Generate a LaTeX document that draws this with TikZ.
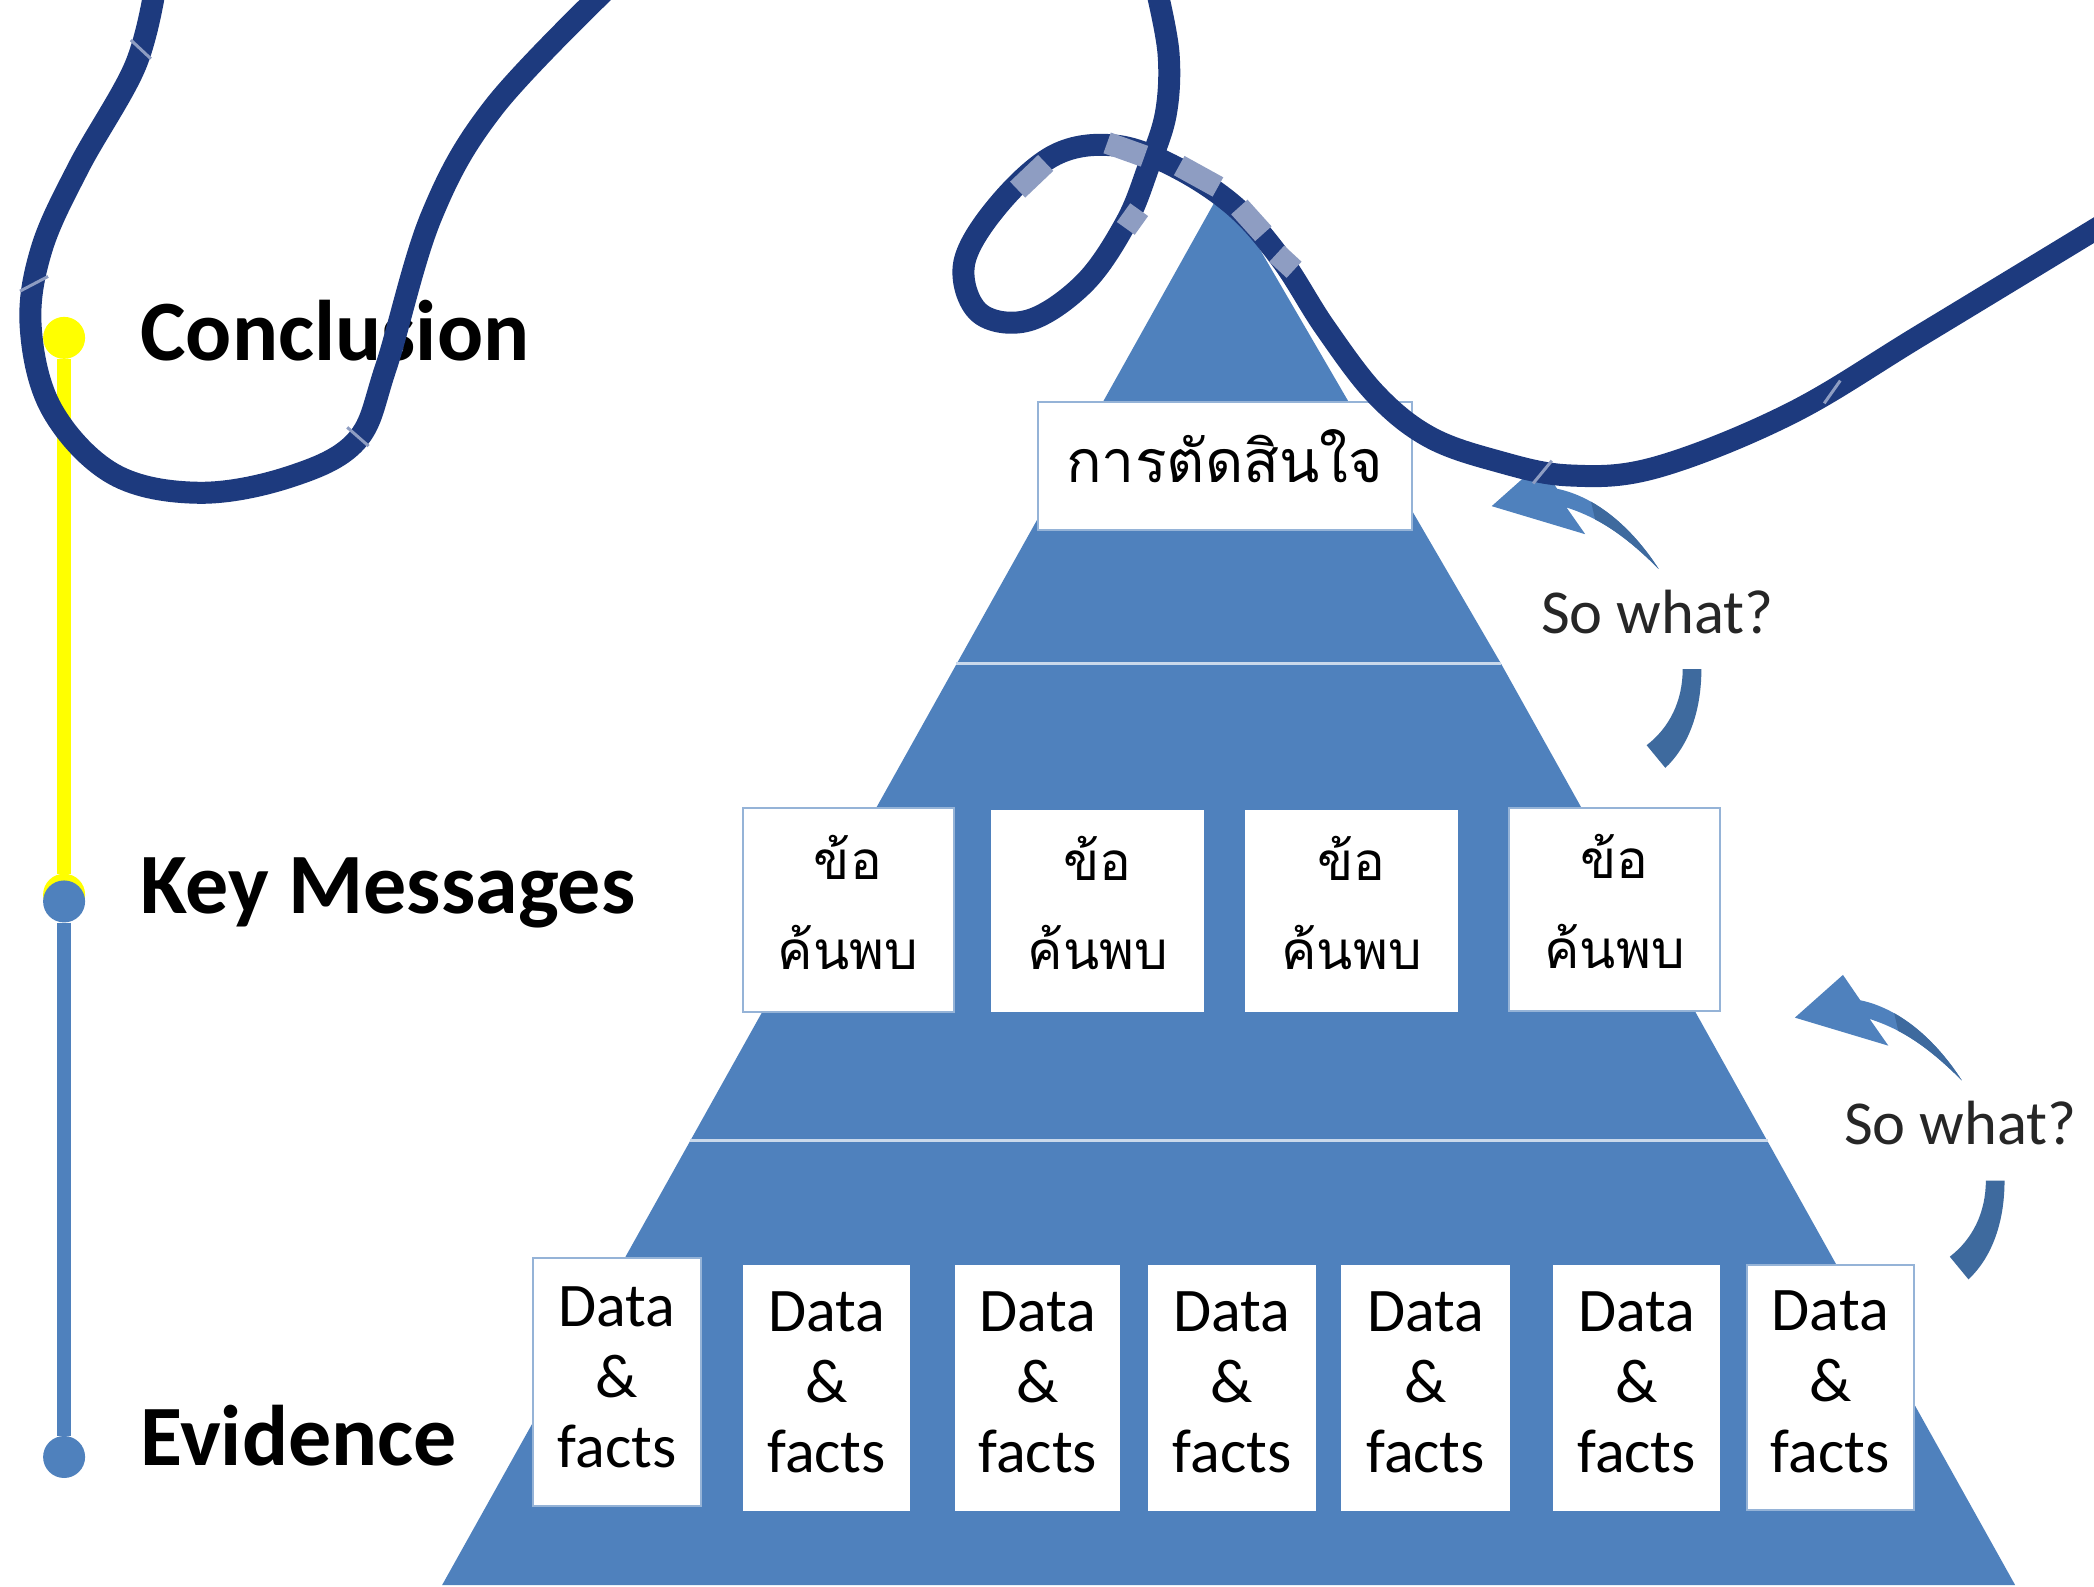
\documentclass[tikz,border=0pt]{standalone}
\usepackage{fontspec}
\setmainfont{Carlito}
\newfontfamily\thaifont[Script=Thai]{Loma}
\definecolor{pyr}{HTML}{4F81BD}
\definecolor{pyrd}{HTML}{3E6A9E}
\definecolor{edge}{HTML}{95B3D7}
\definecolor{navy}{HTML}{1D3A7E}
\definecolor{ligh}{HTML}{8E9DC2}
\definecolor{yell}{HTML}{FFFF00}
\tikzset{
  whitebox/.style={fill=white,inner sep=0pt,line width=2pt},
  databox/.style={whitebox,draw=edge,font=\fontsize{62}{70.8}\selectfont},
  keybox/.style={whitebox,draw=edge,font=\thaifont\fontsize{53}{89.5}\selectfont},
  inbox/.style={draw=white},
  toplabel/.style={anchor=base west,inner sep=0pt,font=\bfseries\fontsize{86}{90}\selectfont},
  sowhat/.style={anchor=base,inner sep=0pt,font=\fontsize{62.5}{66}\selectfont,text=black!85},
  dot/.style={circle,minimum size=42pt,inner sep=0pt},
  squig/.style={draw=navy,line width=22pt,line join=round},
  mark seg/.style={draw=ligh,line width=22pt},
  thin seg/.style={draw=ligh,line width=3pt},
}
% style, name, x1, y1, x2, y2, text, raise of the text in pt
\newcommand\bx[8]{%
  \pgfmathsetmacro\bw{(#5-#3)*1.3355}\pgfmathsetmacro\bh{(#6-#4)*1.3355}%
  \pgfmathsetmacro\cx{(#3+#5)/2}\pgfmathsetmacro\cy{(#4+#6)/2}%
  \node[#1,minimum width=\bw pt,minimum height=\bh pt] (#2) at (\cx,\cy)
    {\raisebox{#8pt}[0pt][0pt]{\begin{tabular}[c]{@{}c@{}}#7\end{tabular}}};}
\newcommand\sw[3]{%
\begin{scope}[shift={(#1,#2)}]
  \fill[pyr] (1117,379) -- (1153,347) -- (1166,366) .. controls (1195,372) and (1222,395) .. (1242,426)
     .. controls (1218,402) and (1198,388) .. (1173,380) -- (1187,400) -- cycle;
  \fill[pyrd] (1191.4,375.7) .. controls (1210.6,386.5) and (1228,404.3) .. (1242,426)
     .. controls (1225.2,409.2) and (1210.4,397.3) .. (1194.4,388.9) -- cycle;
  \fill[pyrd] (1260,501) -- (1274,501) .. controls (1274,535) and (1263,560) .. (1247,575) -- (1233,558)
     .. controls (1250,545) and (1260,525) .. cycle;
  \node[sowhat] (#3) at (1241,474) {So what?};
\end{scope}}
\begin{document}
\begin{tikzpicture}[x=1.3355pt,y=-1.3355pt]
\useasboundingbox (0,0) rectangle (1568,1188);
\fill[white] (0,0) rectangle (1568,1188);
% pyramid
\fill[pyr] (913,145) -- (922,150) -- (1124,497) -- (1509,1187) -- (331,1187) -- cycle;
\coordinate (s1a) at (716,497); \coordinate (s1b) at (1124,497);
\coordinate (s2a) at (517,854); \coordinate (s2b) at (1324,854);
\draw[edge!50,line width=2.5pt] (s1a) -- (s1b);
\draw[edge!50,line width=2.5pt] (s2a) -- (s2b);
% boxes
\bx{keybox}{top}{777}{301}{1057}{397}{\fontsize{59}{60}\selectfont การตัดสินใจ}{-5}
\bx{keybox}{k1}{556}{605}{714}{758}{ข้อ\\ค้นพบ}{-2.5}
\bx{keybox,inbox}{k2}{743}{607}{901}{757}{ข้อ\\ค้นพบ}{-2.5}
\bx{keybox,inbox}{k3}{933}{607}{1091}{757}{ข้อ\\ค้นพบ}{-2.5}
\bx{keybox}{k4}{1130}{605}{1288}{757}{ข้อ\\ค้นพบ}{-2.5}
\bx{databox}{d1}{399}{942}{525}{1128}{Data\\\&\\facts}{-7}
\bx{databox,inbox}{d2}{557}{948}{681}{1131}{Data\\\&\\facts}{-6}
\bx{databox,inbox}{d3}{716}{948}{838}{1131}{Data\\\&\\facts}{-6}
\bx{databox,inbox}{d4}{860}{948}{985}{1131}{Data\\\&\\facts}{-6}
\bx{databox,inbox}{d5}{1005}{948}{1130}{1131}{Data\\\&\\facts}{-6}
\bx{databox,inbox}{d6}{1164}{948}{1287}{1131}{Data\\\&\\facts}{-6}
\bx{databox}{d7}{1308}{947}{1433}{1131}{Data\\\&\\facts}{-6}
% so what arrows
\sw{0}{0}{sw1}
\sw{227}{383}{sw2}
% timeline
\node[dot,fill=yell] (c1) at (48,253) {};
\node[dot,fill=yell] (c2y) at (48,670) {};
\node[dot,fill=pyr] (c2) at (48,675) {};
\node[dot,fill=pyr] (c3) at (48,1091) {};
\draw[yell,line width=14pt] (c1) -- (c2y);
\draw[pyr,line width=14pt] (c2) -- (c3);
\node[toplabel] (l1) at (105,270) {Conclusion};
\node[toplabel] (l2) at (105,684) {Key Messages};
\node[toplabel] (l3) at (105,1097) {Evidence};
% squiggles
\draw[squig] plot[smooth,tension=0.6] coordinates {(116,-8) (101,50) (59,125) (31,187) (23,245) (39,307) (85,355) (149,369) (217,357) (267,330) (289,275) (323,162) (370,80) (458,-12)};
\draw[squig] plot[smooth,tension=0.6] coordinates {(866,-8) (875,40) (873,85) (860,125) (843,167) (812,212) (770,240) (733,234) (722,197) (748,153) (790,116) (835,109) (880,125) (925,155) (960,195) (992,245) (1030,295) (1070,327) (1120,345) (1175,356) (1240,350) (1340,310) (1440,250) (1580,165)};
% pale marks along the line
\draw[mark seg] (762,142) -- (783,122);
\draw[mark seg] (829,107) -- (857,117);
\draw[mark seg] (883,124) -- (912,140);
\draw[mark seg] (928,155) -- (946,175);
\draw[mark seg] (956,190) -- (969,202);
\draw[mark seg] (853,157) -- (843,171);
\draw[thin seg] (98,30) -- (113,44);
\draw[thin seg] (15,218) -- (36,207);
\draw[thin seg] (260,320) -- (276,334);
\draw[thin seg] (1366,302) -- (1378,285);
\draw[thin seg] (1148,362) -- (1162,345);
\end{tikzpicture}
\end{document}
